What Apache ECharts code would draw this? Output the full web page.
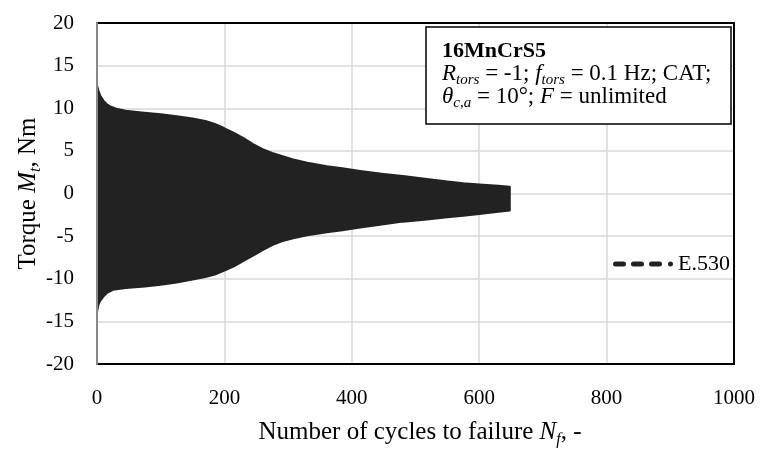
<!DOCTYPE html>
<html>
<head>
<meta charset="utf-8">
<script src="https://cdn.jsdelivr.net/npm/echarts@6/dist/echarts.min.js"></script>
<style>
  html, body { margin: 0; padding: 0; background: #fff; }
  #chart { width: 760px; height: 450px; }
</style>
</head>
<body>
<div id="chart"></div>
<script>
// Torque amplitude envelope of test E.530 (cycles N, torque in Nm)
const upperEnvelope = [
  [0, 12.7], [2, 12.1], [5, 11.5], [10, 10.9], [15, 10.5], [20, 10.25], [30, 9.95],
  [45, 9.7], [70, 9.5], [100, 9.3], [125, 9.05], [150, 8.8], [170, 8.5], [185, 8.15],
  [200, 7.65], [215, 7.1], [230, 6.5], [245, 5.8], [260, 5.2], [275, 4.75], [290, 4.4],
  [308, 4.0], [330, 3.6], [361, 3.2], [385, 2.95], [413, 2.65], [450, 2.3], [480, 2.05],
  [518, 1.7], [550, 1.4], [575, 1.2], [600, 1.05], [630, 0.9], [648, 0.8]
];
const lowerEnvelope = [
  [0, -13.9], [2, -13.1], [5, -12.6], [10, -12.1], [15, -11.7], [25, -11.3], [45, -11.1],
  [75, -10.9], [100, -10.7], [125, -10.45], [150, -10.1], [170, -9.8], [185, -9.5],
  [200, -9.05], [215, -8.55], [230, -7.9], [245, -7.3], [260, -6.65], [275, -6.05],
  [290, -5.6], [308, -5.25], [330, -4.9], [361, -4.55], [385, -4.3], [413, -4.0],
  [450, -3.6], [480, -3.3], [518, -3.05], [550, -2.8], [575, -2.6], [600, -2.4],
  [630, -2.15], [648, -2.0]
];
const seriesName = 'E.530';
const xTicks = { min: 0, max: 1000, interval: 200 };
const yTicks = { min: -20, max: 20, interval: 5 };

const FONT = 'Liberation Serif';
const INK = '#222222';

function richSet(size, boldSize, lh, subSize) {
  return {
    n: { fontSize: size, fontFamily: FONT, color: '#000', lineHeight: lh },
    b: { fontSize: boldSize, fontFamily: FONT, color: '#000', lineHeight: lh, fontWeight: 'bold' },
    i: { fontSize: size, fontFamily: FONT, color: '#000', lineHeight: lh, fontStyle: 'italic' },
    s: { fontSize: subSize, fontFamily: FONT, color: '#000', fontStyle: 'italic',
         height: Math.round(lh * 0.45), verticalAlign: 'bottom' }
  };
}
const titleRich = richSet(25, 25, 28, 16);
const boxRich = richSet(23, 22, 23, 15);

const chart = echarts.init(document.getElementById('chart'), null, { renderer: 'canvas' });

// Filled band between the upper and lower torque envelopes
const bandSeries = {
  name: seriesName,
  type: 'custom',
  coordinateSystem: 'cartesian2d',
  data: upperEnvelope,
  encode: { x: 0, y: 1 },
  itemStyle: { color: INK },
  z: 2,
  renderItem: function (params, api) {
    if (params.dataIndex !== 0) return null;
    const pts = upperEnvelope.map(p => api.coord(p))
      .concat(lowerEnvelope.slice().reverse().map(p => api.coord(p)));
    return {
      type: 'polygon',
      shape: { points: pts },
      style: { fill: INK, stroke: INK, lineWidth: 2, lineJoin: 'round' }
    };
  }
};

const frameAxis = (position) => ({
  type: 'value',
  position: position,
  min: position === 'top' ? xTicks.min : yTicks.min,
  max: position === 'top' ? xTicks.max : yTicks.max,
  interval: position === 'top' ? xTicks.interval : yTicks.interval,
  axisLine: { show: true, onZero: false, lineStyle: { color: '#000', width: 2 } },
  axisTick: { show: false },
  axisLabel: { show: false },
  splitLine: { show: false }
});

chart.setOption({
  animation: false,
  backgroundColor: '#fff',
  textStyle: { fontFamily: FONT },
  grid: { left: 97, right: 26, top: 23, bottom: 86, containLabel: false, outerBoundsMode: 'none' },
  legend: {
    data: [{
      name: seriesName,
      icon: 'path://M2.5,0H10.5A2.5,2.5 0 0 1 10.5,5H2.5A2.5,2.5 0 0 1 2.5,0Z' +
            'M20.5,0H28.5A2.5,2.5 0 0 1 28.5,5H20.5A2.5,2.5 0 0 1 20.5,0Z' +
            'M38.5,0H46.5A2.5,2.5 0 0 1 46.5,5H38.5A2.5,2.5 0 0 1 38.5,0Z' +
            'M55,2.5A2.5,2.5 0 1 1 60,2.5A2.5,2.5 0 1 1 55,2.5Z'
    }],
    left: 613,
    top: 253,
    padding: 0,
    itemWidth: 60,
    itemHeight: 5,
    itemGap: 0,
    itemStyle: { color: INK },
    textStyle: { fontSize: 22, fontFamily: FONT, color: '#000' },
    selectedMode: false
  },
  xAxis: [
    {
      type: 'value',
      position: 'bottom',
      min: xTicks.min, max: xTicks.max, interval: xTicks.interval,
      axisLine: { show: true, onZero: false, lineStyle: { color: '#000', width: 2 } },
      axisTick: { show: false },
      axisLabel: { fontSize: 21, fontFamily: FONT, color: '#000', margin: 24,
                   formatter: v => String(v) },
      splitLine: { show: true, lineStyle: { color: '#d9d9d9', width: 1.5 } },
      name: '{n|Number of cycles to failure }{i|N}{s|f}{n|, -}',
      nameLocation: 'middle',
      nameGap: 54,
      nameMoveOverlap: false,
      nameTextStyle: { rich: titleRich, padding: [0, 0, 0, 9] }
    },
    frameAxis('top')
  ],
  yAxis: [
    {
      type: 'value',
      position: 'left',
      min: yTicks.min, max: yTicks.max, interval: yTicks.interval,
      axisLine: { show: false },
      axisTick: { show: false },
      axisLabel: { fontSize: 21, fontFamily: FONT, color: '#000', margin: 23 },
      splitLine: { show: true, lineStyle: { color: '#d9d9d9', width: 1.5 } },
      name: '{n|Torque }{i|M}{s|t}{n|, Nm}',
      nameLocation: 'middle',
      nameRotate: 90,
      nameGap: 55,
      nameMoveOverlap: false,
      nameTextStyle: { rich: titleRich }
    },
    frameAxis('right'),
    {
      // grey left frame line, kept above the filled band
      type: 'value',
      position: 'left',
      z: 10,
      min: yTicks.min, max: yTicks.max, interval: yTicks.interval,
      axisLine: { show: true, onZero: false, lineStyle: { color: '#888888', width: 2 } },
      axisTick: { show: false },
      axisLabel: { show: false },
      splitLine: { show: false }
    }
  ],
  series: [bandSeries],
  graphic: [
    {
      type: 'rect',
      z: 50,
      shape: { x: 426, y: 27, width: 305, height: 97 },
      style: { fill: '#fff', stroke: '#000', lineWidth: 1.5 }
    },
    {
      type: 'text',
      z: 51,
      left: 442,
      top: 40,
      style: {
        text: '{b|16MnCrS5}\n' +
              '{i|R}{s|tors}{n| = -1; }{i|f}{s|tors}{n| = 0.1 Hz; CAT;}\n' +
              '{i|θ}{s|c,a}{n| = 10°; }{i|F}{n| = unlimited}',
        rich: boxRich
      }
    }
  ]
});
</script>
</body>
</html>
